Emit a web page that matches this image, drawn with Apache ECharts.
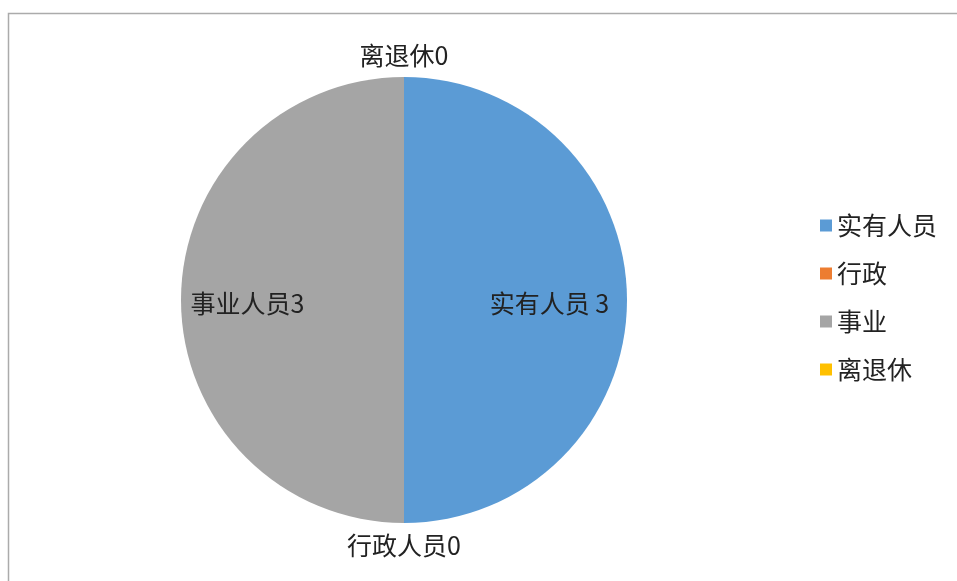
<!DOCTYPE html>
<html>
<head>
<meta charset="utf-8">
<script src="https://cdn.jsdelivr.net/npm/echarts@6/dist/echarts.min.js"></script>
<style>
html,body{margin:0;padding:0;background:#fff;}
#chart{width:957px;height:581px;}
</style>
</head>
<body>
<div id="chart"></div>
<script>
// Data
var categories = ['实有人员', '行政', '事业', '离退休'];
var labelNames = ['实有人员 ', '行政人员', '事业人员', '离退休'];
var values = [3, 0, 3, 0];
var colors = ['#5B9BD5', '#ED7D31', '#A5A5A5', '#FFC000'];

var FONT = '"Noto Sans CJK SC", "Noto Sans", sans-serif';

// label placement styles (not data)
var labelStyles = [
  {position: 'inside', offset: [31, 3]},
  {position: 'outside'},
  {position: 'inside', offset: [-42, 3]},
  {position: 'outside'}
];

var seriesData = categories.map(function (c, i) {
  return {
    name: c,
    value: values[i],
    itemStyle: {color: colors[i]},
    label: labelStyles[i]
  };
});

var chart = echarts.init(document.getElementById('chart'));
chart.setOption({
  animation: false,
  backgroundColor: '#fff',
  graphic: [{
    type: 'rect',
    shape: {x: 8.5, y: 13.5, width: 1000, height: 700},
    style: {fill: 'none', stroke: '#ababab', lineWidth: 1.5},
    silent: true,
    z: -1
  }],
  legend: {
    orient: 'vertical',
    left: 815,
    top: 208,
    itemWidth: 12,
    itemHeight: 12,
    itemGap: 23,
    icon: 'rect',
    data: categories,
    textStyle: {fontFamily: FONT, fontSize: 25, color: '#222'}
  },
  series: [{
    type: 'pie',
    center: [404, 300],
    radius: 223,
    startAngle: 90,
    clockwise: true,
    avoidLabelOverlap: false,
    data: seriesData,
    label: {
      show: true,
      fontFamily: FONT,
      fontSize: 25,
      color: '#222',
      distanceToLabelLine: 0,
      formatter: function (p) {
        return labelNames[p.dataIndex] + p.value;
      }
    },
    labelLine: {show: false, length: 22, length2: 0},
    labelLayout: function () {
      return {align: 'center'};
    },
    itemStyle: {borderWidth: 0},
    emphasis: {disabled: true}
  }]
});
</script>
</body>
</html>
